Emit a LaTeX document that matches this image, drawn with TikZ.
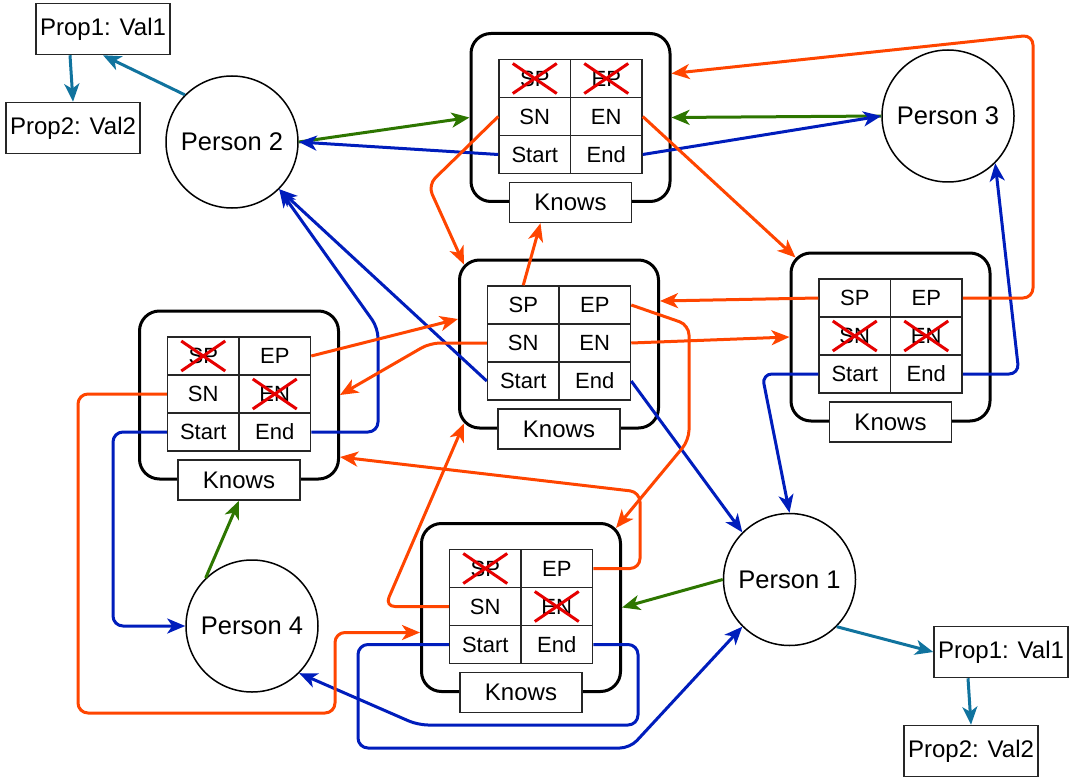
\documentclass[tikz,border=0pt]{standalone}
\usepackage{fontspec}
\setmainfont{Liberation Sans}
\usepackage{xcolor}
\usetikzlibrary{arrows.meta}
\definecolor{xorange}{HTML}{FF4500}
\definecolor{xblue}{HTML}{001DBC}
\definecolor{xgreen}{HTML}{2D7600}
\definecolor{xteal}{HTML}{10739E}
\definecolor{xred}{HTML}{E60000}

\begin{document}
\begin{tikzpicture}[x=1pt,y=-1pt,
    >={Stealth[length=18pt,width=15pt,inset=5pt]},
    relbox/.style={draw,line width=3pt,rounded corners=20pt,fill=white,minimum width=199pt,minimum height=168pt},
    cell/.style={draw=black!85,line width=1.5pt,fill=white,minimum width=71.5pt,minimum height=38pt,inner sep=0pt,font=\fontsize{22}{24}\selectfont},
    knows/.style={draw=black!85,line width=1.5pt,fill=white,minimum width=122pt,minimum height=40pt,inner sep=0pt,font=\fontsize{24}{26}\selectfont},
    person/.style={circle,draw,line width=1.5pt,fill=white,minimum size=132pt,inner sep=0pt,font=\fontsize{25.5}{28}\selectfont},
    prop/.style={draw=black!85,line width=1.5pt,fill=white,minimum width=134pt,minimum height=51pt,inner sep=0pt,font=\fontsize{24}{26}\selectfont},
    xmark/.style={draw=xred,line width=3pt},
    wire/.style={->,line width=3pt,rounded corners=10pt}]
    \useasboundingbox (0,0) rectangle (1073,778);

    % relationship boxes
    \foreach \n/\x/\y in {kt/570.5/116.5, kc/559/343, kl/239/394, kr/890.5/336, kb/521/606.5} {
        \node[relbox] (\n) at (\x,\y+1) {};
        \node[cell] (\n-sp) at (\x-35.75,\y-38) {SP};
        \node[cell] (\n-ep) at (\x+35.75,\y-38) {EP};
        \node[cell] (\n-sn) at (\x-35.75,\y) {SN};
        \node[cell] (\n-en) at (\x+35.75,\y) {EN};
        \node[cell] (\n-start) at (\x-35.75,\y+38) {Start};
        \node[cell] (\n-end) at (\x+35.75,\y+38) {End};
        \node[knows] (\n-k) at (\x,\y+86) {Knows};
    }
    \foreach \c in {kt-sp,kt-ep,kl-sp,kl-en,kr-sn,kr-en,kb-sp,kb-en}
        \draw[xmark] ([shift={(-22,-15)}]\c.center) -- ([shift={(22,15)}]\c.center)
                     ([shift={(-22,15)}]\c.center) -- ([shift={(22,-15)}]\c.center);

    \node[person] (p1) at (789.5,579.5) {Person 1};
    \node[person] (p2) at (232,142) {Person 2};
    \node[person] (p3) at (948,116) {Person 3};
    \node[person] (p4) at (252,626) {Person 4};

    \node[prop] (p2a) at (103,29) {Prop1: Val1};
    \node[prop] (p2b) at (73,128) {Prop2: Val2};
    \node[prop] (p1a) at (1001,652) {Prop1: Val1};
    \node[prop] (p1b) at (971,751) {Prop2: Val2};

    % properties
    \draw[wire,xteal] (p2.135) -- (p2a.south);
    \draw[wire,xteal] ([xshift=-33pt]p2a.south) -- (p2b.north);
    \draw[wire,xteal] (p1.-45) -- (p1a.west);
    \draw[wire,xteal] ([xshift=-33pt]p1a.south) -- (p1b.north);

    % persons to relationships
    \draw[wire,xgreen] (p2.east) -- (kt.west);
    \draw[wire,xgreen] (p3.west) -- (kt.east);
    \draw[wire,xgreen] (p4.134) -- (kl-k.south);
    \draw[wire,xgreen] (p1.west) -- (kb.east);

    % start / end
    \draw[wire,xblue] (kt-start.west) -- (p2.east);
    \draw[wire,xblue] (kt-end.east) -- (p3.west);
    \draw[wire,xblue] (kc-start.west) -- (p2.-45);
    \draw[wire,xblue] (kl-end.east) -- (378,432) -- (378,328) -- (p2.-45);
    \draw[wire,xblue] (kl-start.west) -- (113,432) |- (p4.west);
    \draw[wire,xblue] (kc-end.east) -- (p1.135);
    \draw[wire,xblue] (kr-start.west) -- (762,374) -- (p1.north);
    \draw[wire,xblue] (kr-end.east) -- (1019,374) -- (p3.-45);
    \draw[wire,xblue] (kb-end.east) -- (638,644.5) -- (638,725) -- (418,725) -- (p4.-45);
    \draw[wire,xblue] (kb-start.west) -- (358,644.5) -- (358,748) -- (630,748) -- (p1.225);

    % previous / next
    \draw[wire,xorange] (kt-sn.west) -- (428,185) -- ([shift={(6,6)}]kc.north west);
    \draw[wire,xorange] (kt-en.east) -- ([shift={(6,6)}]kr.north west);
    \draw[wire,xorange] (kc-sp.north) -- ([xshift=-30pt]kt-k.south);
    \draw[wire,xorange] (kr-ep.east) -- (1033,298) -- (1033,35) -- ([shift={(0,-44)}]kt.east);
    \draw[wire,xorange] (kr-sp.west) -- ([shift={(0,-43)}]kc.east);
    \draw[wire,xorange] (kc-en.east) -- (kr.west);
    \draw[wire,xorange] (kc-ep.east) -- (689,325) -- (689,440) -- ([shift={(-6,6)}]kb.north east);
    \draw[wire,xorange] (kl-ep.east) -- ([shift={(0,-25)}]kc.west);
    \draw[wire,xorange] (kc-sn.west) -- (430,343) -- (kl.east);
    \draw[wire,xorange] (kb-ep.east) -- (640,568.5) -- (640,492) -- ([shift={(0,62)}]kl.east);
    \draw[wire,xorange] (kb-sn.west) -- (385,606.5) -- ([shift={(6,-6)}]kc.south west);
    \draw[wire,xorange] (kl-sn.west) -- (78,394) -- (78,713) -- (335,713) -- (335,632.5) -- ([shift={(0,25)}]kb.west);
\end{tikzpicture}
\end{document}
